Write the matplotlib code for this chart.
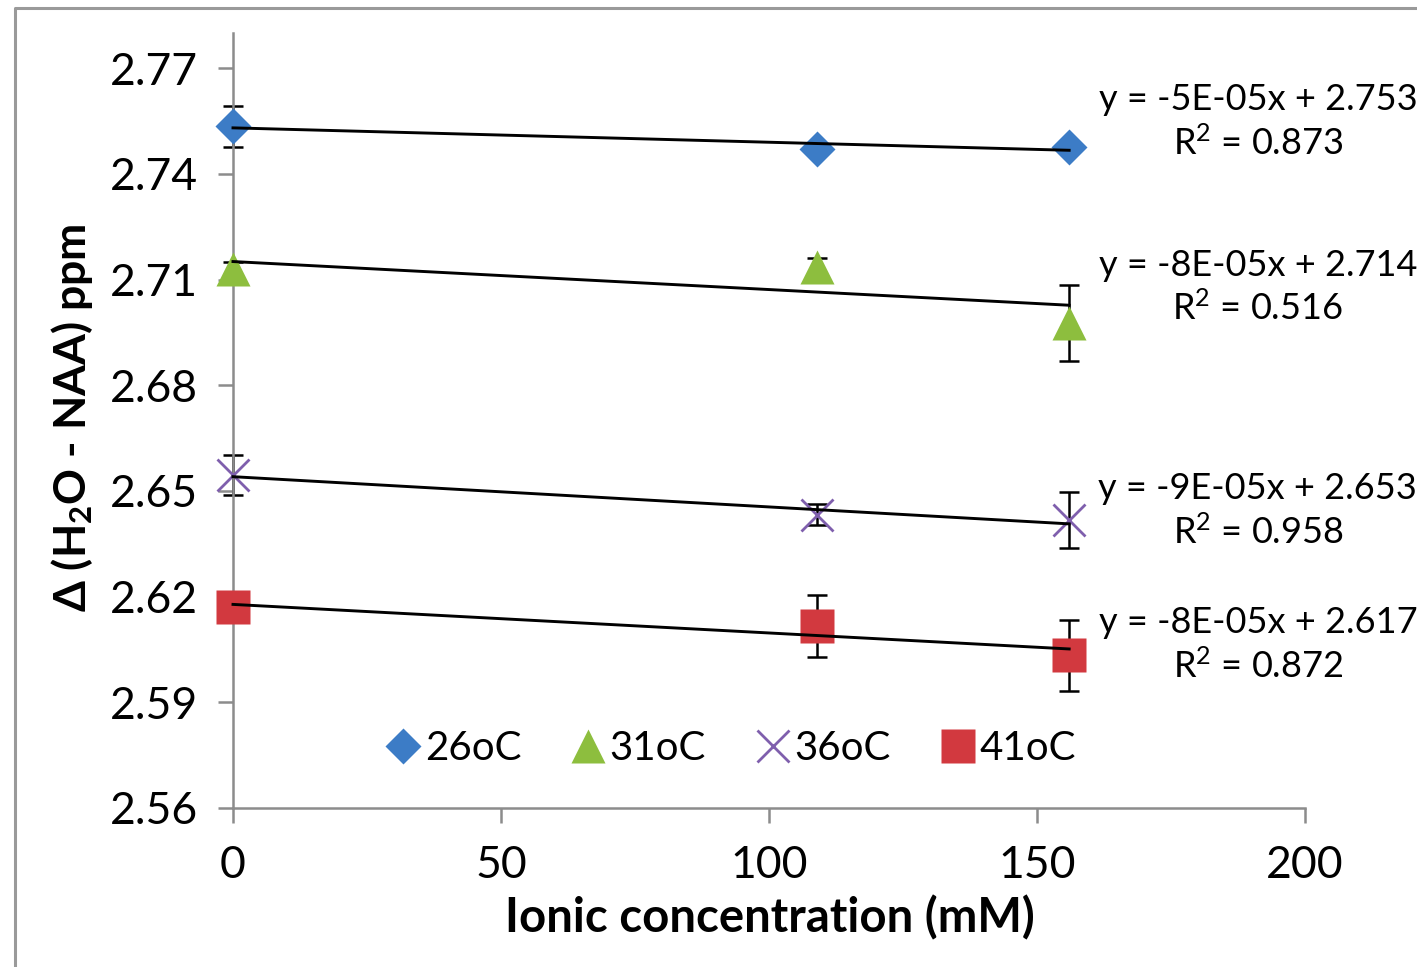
import matplotlib
matplotlib.use("Agg")
import matplotlib.pyplot as plt
from matplotlib.lines import Line2D
import numpy as np

plt.rcParams['font.family'] = ['Lato', 'DejaVu Sans']
plt.rcParams['mathtext.default'] = 'regular'

# ---- data ----
conc = [0, 109, 156]
series_names = ['26oC', '31oC', '36oC', '41oC']
y_26 = [2.7535, 2.7472, 2.7477]
y_31 = [2.7130, 2.7135, 2.6978]
y_36 = [2.6545, 2.6432, 2.6417]
y_41 = [2.6170, 2.6116, 2.6033]
err_26 = [0.0058, 0.0015, 0.0015]
err_31 = [0.0020, 0.0026, 0.0108]
err_36 = [0.0056, 0.0030, 0.0079]
err_41 = [0.0030, 0.0088, 0.0102]
eq_labels = ['y = -5E-05x + 2.753\nR$^{2}$ = 0.873',
             'y = -8E-05x + 2.714\nR$^{2}$ = 0.516',
             'y = -9E-05x + 2.653\nR$^{2}$ = 0.958',
             'y = -8E-05x + 2.617\nR$^{2}$ = 0.872']
eq_y = [2.7547, 2.7077, 2.6443, 2.6063]
x_ticks = [0, 50, 100, 150, 200]
y_ticks = [2.56, 2.59, 2.62, 2.65, 2.68, 2.71, 2.74, 2.77]

colors = ['#3C7CC6', '#8DBE3E', '#7F5FAD', '#D2393F']
markers = ['D', '^', 'x', 's']
msizes = [18, 25, 23, 25]

W, H = 1417, 967
fig = plt.figure(figsize=(W / 100, H / 100), dpi=100)
ax = fig.add_axes([233 / W, 1 - 808 / H, (1305 - 233) / W, (808 - 33) / H])

ys = [y_26, y_31, y_36, y_41]
errs = [err_26, err_31, err_36, err_41]
x = np.array(conc, dtype=float)
for i in range(4):
    eb = ax.errorbar(conc, ys[i], yerr=errs[i], fmt='none', ecolor='black',
                     elinewidth=1.8, capsize=7, capthick=1.8, zorder=2)
    for art in eb.lines[1] + eb.lines[2]:
        art.set_clip_on(False)
    if markers[i] == 'x':
        ax.plot(conc, ys[i], linestyle='none', marker='x', ms=msizes[i],
                mew=2.0, color=colors[i], zorder=3, clip_on=False)
    else:
        ax.plot(conc, ys[i], linestyle='none', marker=markers[i], ms=msizes[i],
                mec='none', color=colors[i], zorder=3, clip_on=False)
    k, b = np.polyfit(x, np.array(ys[i]), 1)
    xx = np.array([x.min(), x.max()])
    ax.plot(xx, k * xx + b, color='black', lw=2.1, zorder=4, clip_on=False)
    ax.text(191.2, eq_y[i], eq_labels[i], ha='center', va='center',
            multialignment='center', fontsize=26, linespacing=1.3,
            clip_on=False, zorder=5)

ax.set_xlim(0, 200)
ax.set_ylim(2.56, 2.78)
ax.set_xticks(x_ticks)
ax.set_yticks(y_ticks)
ax.set_yticklabels([f'{v:.2f}' for v in y_ticks])
for s in ['top', 'right']:
    ax.spines[s].set_visible(False)
for s in ['left', 'bottom']:
    ax.spines[s].set_color('#8C8C8C')
    ax.spines[s].set_linewidth(1.8)
ax.tick_params(axis='both', direction='out', length=11, width=1.8,
               color='#8C8C8C', labelsize=32, labelcolor='black')
ax.tick_params(axis='y', pad=14)
ax.tick_params(axis='x', pad=16)

handles = []
for i in range(4):
    if markers[i] == 'x':
        h = Line2D([], [], linestyle='none', marker='x', ms=msizes[i], mew=2.0,
                   color=colors[i])
    else:
        h = Line2D([], [], linestyle='none', marker=markers[i], ms=msizes[i],
                   mec='none', color=colors[i])
    handles.append(h)
ax.legend(handles, series_names, loc='center', bbox_to_anchor=(0.463, 0.077),
          ncol=4, frameon=False, fontsize=29, handletextpad=0.05,
          columnspacing=1.15, handlelength=1.0)

fig.text(72 / W, 1 - 418 / H, r'$\Delta$ (H$_2$O - NAA) ppm', rotation=90,
         ha='center', va='center', fontsize=32, fontweight='bold')
fig.text(770 / W, 1 - 918 / H, 'Ionic concentration (mM)', ha='center',
         va='center', fontsize=34, fontweight='bold')

# outer frame of the chart area (left and top edges visible)
fig.add_artist(Line2D([15 / W, 15 / W, 1.0], [0.0, 1 - 8 / H, 1 - 8 / H],
                      transform=fig.transFigure, color='#9A9A9A', lw=2.2))

fig.savefig('out.png', dpi=100)
